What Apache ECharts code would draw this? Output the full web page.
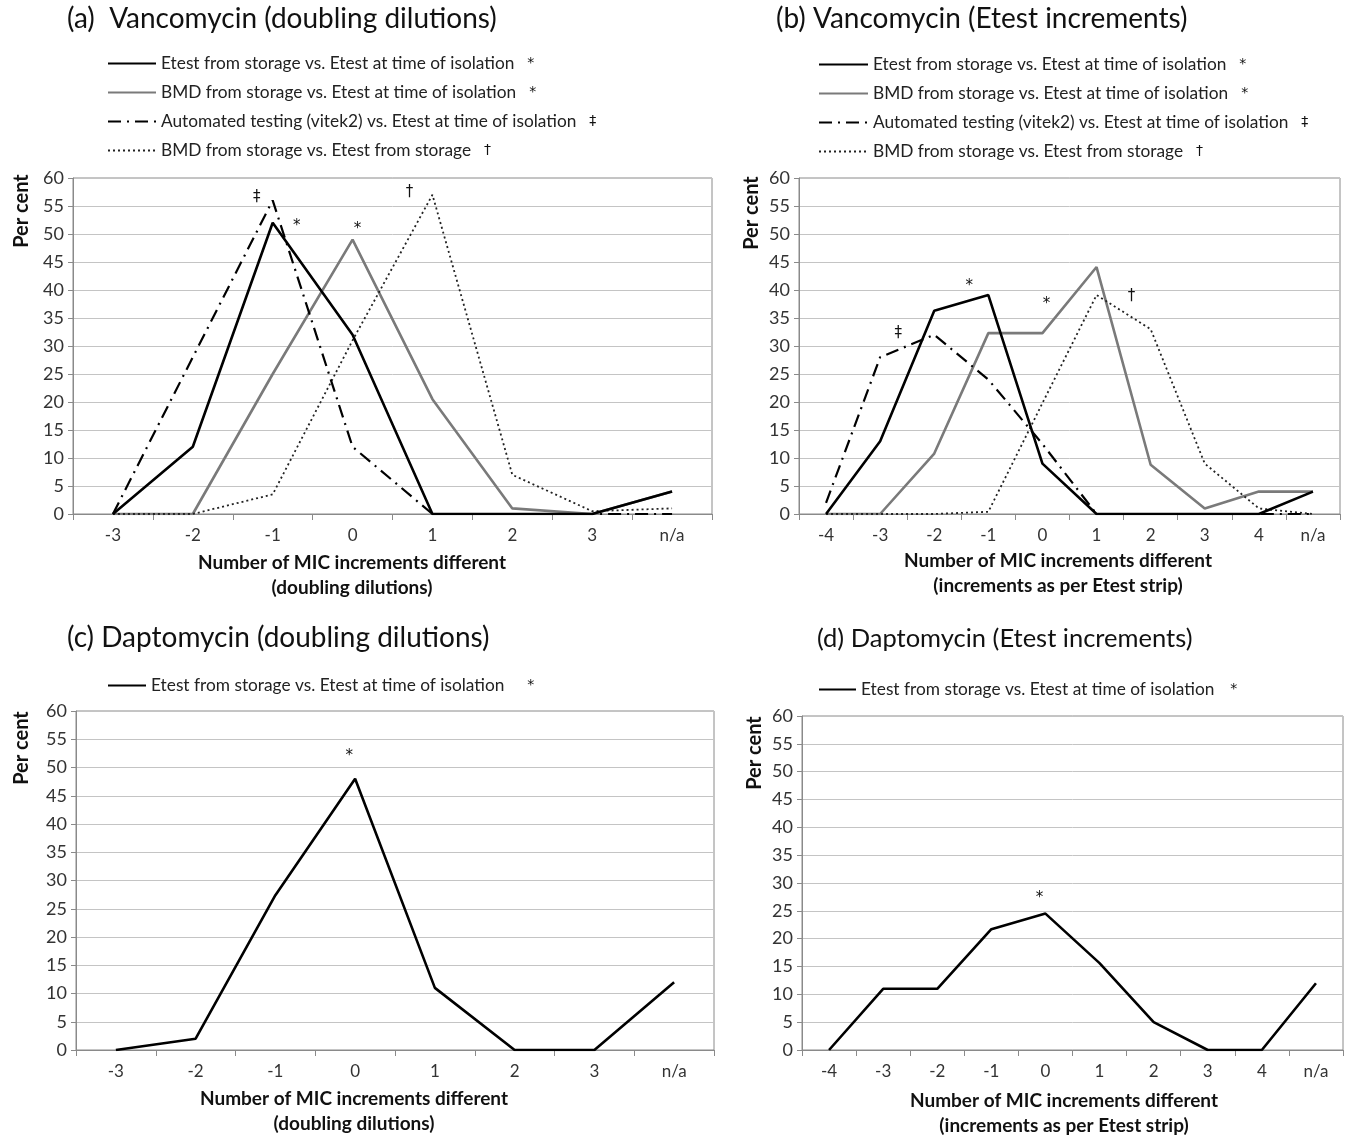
<!DOCTYPE html>
<html>
<head>
<meta charset="utf-8">
<title>Vancomycin and daptomycin MIC increment differences</title>
<script src="https://cdn.jsdelivr.net/npm/echarts@6/dist/echarts.min.js"></script>
<style>
  html, body { margin: 0; padding: 0; background: #fff; }
  #chart { width: 1351px; height: 1136px; }
</style>
</head>
<body>
<div id="chart"></div>
<script>
// Category labels (MIC increments different)
const doublingCats = ['-3', '-2', '-1', '0', '1', '2', '3', 'n/a'];
const etestCats = ['-4', '-3', '-2', '-1', '0', '1', '2', '3', '4', 'n/a'];

// Percent axis
const percentMin = 0;
const percentMax = 60;
const percentStep = 5;

// Series names
const NAME_ETEST = 'Etest from storage vs. Etest at time of isolation';
const NAME_BMD = 'BMD from storage vs. Etest at time of isolation';
const NAME_VITEK = 'Automated testing (vitek2) vs. Etest at time of isolation';
const NAME_BMD_ETEST = 'BMD from storage vs. Etest from storage';

// (a) Vancomycin, doubling dilutions
const vancoDblEtest = [0, 12, 52, 32, 0, 0, 0, 4];
const vancoDblBmd = [0, 0, 25, 49, 20.5, 1, 0, 4];
const vancoDblVitek = [0, 28, 56, 12, 0, 0, 0, 0];
const vancoDblBmdEtest = [0, 0, 3.5, 31, 57, 7, 0.5, 1];

// (b) Vancomycin, Etest increments
const vancoIncEtest = [0, 13, 36.3, 39.1, 9, 0, 0, 0, 0, 4];
const vancoIncBmd = [0, 0, 10.8, 32.3, 32.3, 44.1, 8.8, 1, 4, 4];
const vancoIncVitek = [2, 28, 32, 24, 12.5, 0, 0, 0, 0, 0];
const vancoIncBmdEtest = [0, 0, 0, 0.4, 19.8, 39.1, 33, 9, 1, 0];

// (c) Daptomycin, doubling dilutions
const daptoDblEtest = [0, 2, 27.4, 48, 11, 0, 0, 12];

// (d) Daptomycin, Etest increments
const daptoIncEtest = [0, 11, 11, 21.7, 24.5, 15.6, 5, 0, 0, 12];

// Significance marks shown after each legend entry
const legendMarks = { [NAME_ETEST]: '*', [NAME_BMD]: '*', [NAME_VITEK]: '\u2021', [NAME_BMD_ETEST]: '\u2020' };

const FONT = 'Lato, "Open Sans", sans-serif';
const MARK_FONT = '"DejaVu Sans", sans-serif';

const grids = [
  { left: 73, top: 178, width: 639, height: 336 },
  { left: 799, top: 178, width: 541, height: 336 },
  { left: 76, top: 711, width: 638, height: 339 },
  { left: 802, top: 716, width: 541, height: 334 }
].map(g => Object.assign({ show: true, borderColor: '#8a8a8a', borderWidth: 1, containLabel: false }, g));

function xAxisFor(gridIndex, cats) {
  return {
    type: 'category', gridIndex, data: cats, boundaryGap: true,
    axisLine: { show: true, lineStyle: { color: '#8a8a8a', width: 1 } },
    axisTick: { show: true, length: 6, interval: 0, lineStyle: { color: '#8a8a8a' } },
    axisLabel: { interval: 0, margin: 13, color: '#333', fontSize: 17, fontFamily: FONT },
    splitLine: { show: false }
  };
}
function yAxisFor(gridIndex) {
  return {
    type: 'value', gridIndex, min: percentMin, max: percentMax, interval: percentStep,
    axisLine: { show: true, lineStyle: { color: '#8a8a8a', width: 1 } },
    axisTick: { show: true, length: 5, lineStyle: { color: '#8a8a8a' } },
    axisLabel: { margin: 9, color: '#333', fontSize: 18, fontFamily: FONT },
    splitLine: { show: true, lineStyle: { color: '#c4c4c4', width: 1 } }
  };
}

const styles = {
  etest: { color: '#000', width: 2.6, type: 'solid' },
  bmd: { color: '#7a7a7a', width: 2.6, type: 'solid' },
  vitek: { color: '#000', width: 2.2, type: [13, 6, 2, 6] },
  bmdEtest: { color: '#222', width: 1.8, type: [2, 3] }
};

// A short text note placed next to a data point
function note(text, cat, value, dx, dy) {
  return {
    coord: [cat, value], symbol: 'circle', symbolSize: 0,
    itemStyle: { color: 'transparent' },
    label: { show: true, formatter: text, offset: [dx, dy], color: '#111', fontSize: 15, fontFamily: MARK_FONT }
  };
}

function lineSeries(name, idx, data, style, z, notes) {
  const s = {
    name, type: 'line', xAxisIndex: idx, yAxisIndex: idx, data,
    symbol: 'none', smooth: false, z,
    lineStyle: { color: style.color, width: style.width, type: style.type },
    itemStyle: { color: style.color },
    emphasis: { disabled: true },
    animation: false
  };
  if (notes && notes.length) {
    s.markPoint = { symbol: 'circle', symbolSize: 0, animation: false, data: notes };
  }
  return s;
}

const series = [
  // (a)
  lineSeries(NAME_BMD, 0, vancoDblBmd, styles.bmd, 2, [note('*', doublingCats[3], vancoDblBmd[3], 5, -10)]),
  lineSeries(NAME_BMD_ETEST, 0, vancoDblBmdEtest, styles.bmdEtest, 3, [note('\u2020', doublingCats[4], vancoDblBmdEtest[4], -23, -3)]),
  lineSeries(NAME_VITEK, 0, vancoDblVitek, styles.vitek, 4, [note('\u2021', doublingCats[2], vancoDblVitek[2], -16, -3)]),
  lineSeries(NAME_ETEST, 0, vancoDblEtest, styles.etest, 5, [note('*', doublingCats[2], vancoDblEtest[2], 24, 3)]),
  // (b)
  lineSeries(NAME_BMD, 1, vancoIncBmd, styles.bmd, 2, [note('*', etestCats[4], vancoIncBmd[4], 4, -29)]),
  lineSeries(NAME_BMD_ETEST, 1, vancoIncBmdEtest, styles.bmdEtest, 3, [note('\u2020', etestCats[5], vancoIncBmdEtest[5], 35, 1)]),
  lineSeries(NAME_VITEK, 1, vancoIncVitek, styles.vitek, 4, [note('\u2021', etestCats[2], vancoIncVitek[2], -36, -2)]),
  lineSeries(NAME_ETEST, 1, vancoIncEtest, styles.etest, 5, [note('*', etestCats[3], vancoIncEtest[3], -19, -9)]),
  // (c)
  lineSeries(NAME_ETEST, 2, daptoDblEtest, styles.etest, 5, [note('*', doublingCats[3], daptoDblEtest[3], -6, -23)]),
  // (d)
  lineSeries(NAME_ETEST, 3, daptoIncEtest, styles.etest, 5, [note('*', etestCats[4], daptoIncEtest[4], -6, -16)])
];

function legendFor(left, top, names, iconWidth, gap) {
  return {
    left, top, padding: 0, orient: 'vertical', itemWidth: iconWidth, itemHeight: 14, itemGap: 12,
    selectedMode: false, data: names,
    itemStyle: { color: 'transparent', borderColor: 'transparent', borderWidth: 0, opacity: 0 },
    textStyle: {
      fontFamily: FONT, fontSize: 17.3, color: '#222',
      rich: { m: { fontFamily: MARK_FONT, fontSize: 14, color: '#111', padding: [0, 0, 0, gap] } }
    },
    formatter: n => n + '{m|' + legendMarks[n] + '}'
  };
}

const fourNames = [NAME_ETEST, NAME_BMD, NAME_VITEK, NAME_BMD_ETEST];

const titleStyle = { fontFamily: FONT, fontSize: 28, fontWeight: 'normal', color: '#111' };
const titleStyleD = Object.assign({}, titleStyle, { fontSize: 25.5 });
const titles = [
  { text: '(a)  Vancomycin (doubling dilutions)', left: 67, top: 5, padding: 0, textStyle: titleStyle },
  { text: '(b) Vancomycin (Etest increments)', left: 776, top: 5, padding: 0, textStyle: titleStyle },
  { text: '(c) Daptomycin (doubling dilutions)', left: 67, top: 624, padding: 0, textStyle: titleStyle },
  { text: '(d) Daptomycin (Etest increments)', left: 817, top: 626, padding: 0, textStyle: titleStyleD }
];

function yName(x, y) {
  return { type: 'text', x, y, rotation: Math.PI / 2,
    style: { text: 'Per cent', font: 'bold 20px ' + FONT, fill: '#111', align: 'center', verticalAlign: 'middle' } };
}
function xName(x, y, second) {
  return { type: 'text', x, y,
    style: { text: 'Number of MIC increments different\n' + second, font: 'bold 19px ' + FONT,
      fill: '#111', align: 'center', verticalAlign: 'top', lineHeight: 25 } };
}

const option = {
  animation: false,
  backgroundColor: '#fff',
  title: titles,
  legend: [
    legendFor(107, 55, fourNames, 48, 13),
    legendFor(818, 56, fourNames, 49, 13),
    legendFor(107, 677, [NAME_ETEST], 38, 23),
    legendFor(818, 681, [NAME_ETEST], 37, 16)
  ],
  grid: grids,
  xAxis: [xAxisFor(0, doublingCats), xAxisFor(1, etestCats), xAxisFor(2, doublingCats), xAxisFor(3, etestCats)],
  yAxis: [yAxisFor(0), yAxisFor(1), yAxisFor(2), yAxisFor(3)],
  series,
  graphic: [
    yName(22, 211), yName(752, 213), yName(22, 748), yName(755, 753),
    xName(352, 550, '(doubling dilutions)'),
    xName(1058, 548, '(increments as per Etest strip)'),
    xName(354, 1086, '(doubling dilutions)'),
    xName(1064, 1088, '(increments as per Etest strip)')
  ]
};

const chart = echarts.init(document.getElementById('chart'), null, { renderer: 'canvas' });
chart.setOption(option);
</script>
</body>
</html>
